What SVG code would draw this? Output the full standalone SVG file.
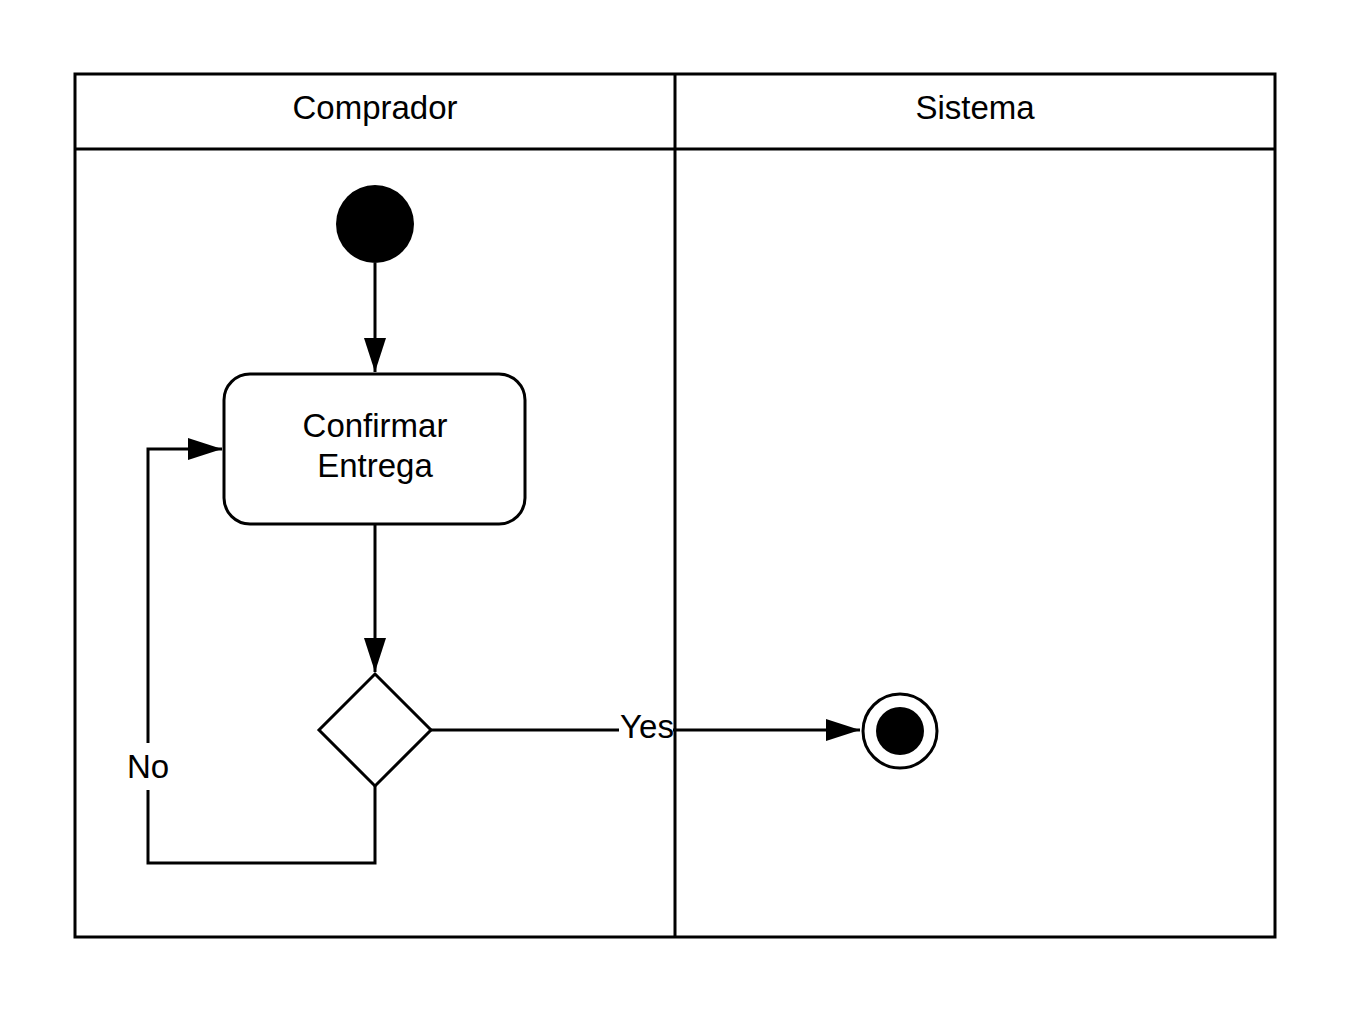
<svg xmlns="http://www.w3.org/2000/svg" width="1350" height="1013" viewBox="0 0 1350 1013">
<style>
.ln{fill:none;stroke:#000;stroke-width:3}
.t{font-family:"Liberation Sans",Arial,sans-serif;font-size:33px;fill:#000;text-anchor:middle}
.lbl{font-family:"Liberation Sans",Arial,sans-serif;font-size:33px;fill:#000;text-anchor:middle}
</style>
<defs>
<marker id="arr" markerWidth="34" markerHeight="22" refX="34" refY="11" orient="auto" markerUnits="userSpaceOnUse">
<path d="M0,0 L34,11 L0,22 Z" fill="#000"/>
</marker>
</defs>
<rect width="1350" height="1013" fill="#fff"/>
<g id="pool">
<rect class="ln" x="75" y="74" width="1200" height="863"/>
<line class="ln" x1="75" y1="149" x2="1275" y2="149"/>
<line class="ln" x1="675" y1="74" x2="675" y2="937"/>
<text class="t" x="375" y="119">Comprador</text>
<text class="t" x="975" y="119">Sistema</text>
</g>
<g id="connectors">
<line class="ln" x1="375" y1="263" x2="375" y2="372" marker-end="url(#arr)"/>
<line class="ln" x1="375" y1="525" x2="375" y2="672" marker-end="url(#arr)"/>
<line class="ln" x1="431" y1="730" x2="860" y2="730" marker-end="url(#arr)"/>
<polyline class="ln" points="375,786 375,863 148,863 148,449 222,449" marker-end="url(#arr)"/>
<rect x="619" y="710" width="54" height="36" fill="#fff"/>
<text class="lbl" x="647" y="738">Yes</text>
<rect x="124" y="743" width="48" height="47" fill="#fff"/>
<text class="lbl" x="148" y="778">No</text>
</g>
<g id="start">
<circle cx="375" cy="224" r="39" fill="#000"/>
</g>
<g id="confirmar">
<rect class="ln" x="224" y="374" width="301" height="150" rx="26" fill="#fff"/>
<text class="t" x="375" y="437">Confirmar</text>
<text class="t" x="375" y="477">Entrega</text>
</g>
<g id="decision">
<polygon class="ln" points="375,674 431,730 375,786 319,730" fill="#fff"/>
</g>
<g id="end">
<circle cx="900" cy="731" r="37" fill="#fff" stroke="#000" stroke-width="3"/>
<circle cx="900" cy="731" r="24" fill="#000"/>
</g>
</svg>
